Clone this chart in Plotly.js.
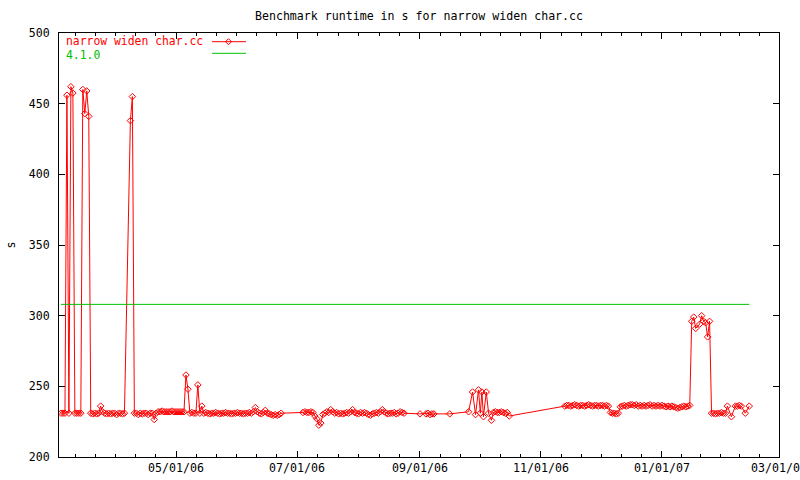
<!DOCTYPE html>
<html><head><meta charset="utf-8">
<script src="https://cdn.plot.ly/plotly-3.0.1.min.js"></script>
<style>html,body{margin:0;padding:0;background:#fff}#chart{width:800px;height:480px}</style>
</head><body><div id="chart"></div>
<script>
const chartTitle = 'Benchmark runtime in s for narrow widen char.cc';
const seriesName = 'narrow widen char.cc';
const referenceName = '4.1.0';
const yAxisTitle = 's';

const runDates = [
  '2006-03-04','2006-03-05','2006-03-06','2006-03-07','2006-03-08','2006-03-09','2006-03-10','2006-03-11','2006-03-12','2006-03-13','2006-03-14','2006-03-15','2006-03-16','2006-03-17','2006-03-18',
  '2006-03-19','2006-03-20','2006-03-21','2006-03-22','2006-03-23','2006-03-24','2006-03-25','2006-03-26','2006-03-27','2006-03-28','2006-03-29','2006-03-30','2006-03-31','2006-04-01','2006-04-02','2006-04-03','2006-04-04','2006-04-05',
  '2006-04-08','2006-04-09','2006-04-10','2006-04-11','2006-04-12','2006-04-13','2006-04-14','2006-04-15','2006-04-16','2006-04-17','2006-04-18','2006-04-19','2006-04-20','2006-04-21',
  '2006-04-22','2006-04-23','2006-04-24','2006-04-25','2006-04-26','2006-04-27','2006-04-28','2006-04-29','2006-04-30','2006-05-01','2006-05-02','2006-05-03','2006-05-04','2006-05-05',
  '2006-05-06','2006-05-07','2006-05-08','2006-05-09','2006-05-10','2006-05-11','2006-05-12','2006-05-13','2006-05-14',
  '2006-05-15','2006-05-16','2006-05-17','2006-05-18','2006-05-19','2006-05-20','2006-05-21','2006-05-22','2006-05-23','2006-05-24','2006-05-25','2006-05-26','2006-05-27','2006-05-28','2006-05-29','2006-05-30','2006-05-31',
  '2006-06-01','2006-06-02','2006-06-03','2006-06-04','2006-06-05','2006-06-06','2006-06-07','2006-06-08','2006-06-09','2006-06-10','2006-06-11','2006-06-12','2006-06-13','2006-06-14','2006-06-15','2006-06-16','2006-06-17','2006-06-18','2006-06-19','2006-06-20','2006-06-21','2006-06-22','2006-06-23',
  '2006-07-04','2006-07-05','2006-07-06','2006-07-07','2006-07-08','2006-07-09','2006-07-10','2006-07-11','2006-07-12','2006-07-13','2006-07-14',
  '2006-07-15','2006-07-16','2006-07-17','2006-07-18','2006-07-19','2006-07-20','2006-07-21','2006-07-22','2006-07-23','2006-07-24','2006-07-25','2006-07-26','2006-07-27','2006-07-28','2006-07-29','2006-07-30','2006-07-31',
  '2006-08-01','2006-08-02','2006-08-03','2006-08-04','2006-08-05','2006-08-06','2006-08-07','2006-08-08','2006-08-09','2006-08-10','2006-08-11','2006-08-12','2006-08-13','2006-08-14','2006-08-15','2006-08-16','2006-08-17','2006-08-18','2006-08-19','2006-08-20','2006-08-21','2006-08-22','2006-08-23','2006-08-24',
  '2006-09-01','2006-09-04','2006-09-05','2006-09-06','2006-09-07','2006-09-08','2006-09-16',
  '2006-09-25 12:00','2006-09-27 12:00','2006-09-29 00:00','2006-09-30 12:00','2006-10-01 10:00','2006-10-02 05:00','2006-10-03 00:00','2006-10-04 10:00','2006-10-05 14:00','2006-10-07 00:00',
  '2006-10-08','2006-10-09','2006-10-10','2006-10-11','2006-10-12','2006-10-13','2006-10-14','2006-10-15','2006-10-16',
  '2006-11-13','2006-11-14','2006-11-15','2006-11-16','2006-11-17','2006-11-18','2006-11-19','2006-11-20','2006-11-21','2006-11-22','2006-11-23','2006-11-24','2006-11-25','2006-11-26','2006-11-27','2006-11-28','2006-11-29','2006-11-30',
  '2006-12-01','2006-12-02','2006-12-03','2006-12-04','2006-12-05',
  '2006-12-06','2006-12-07','2006-12-08','2006-12-09','2006-12-10',
  '2006-12-11','2006-12-12','2006-12-13','2006-12-14','2006-12-15','2006-12-16','2006-12-17','2006-12-18','2006-12-19','2006-12-20','2006-12-21','2006-12-22','2006-12-23','2006-12-24','2006-12-25','2006-12-26','2006-12-27','2006-12-28','2006-12-29','2006-12-30','2006-12-31',
  '2007-01-01','2007-01-02','2007-01-03','2007-01-04','2007-01-05','2007-01-06','2007-01-07','2007-01-08','2007-01-09','2007-01-10','2007-01-11','2007-01-12','2007-01-13','2007-01-14','2007-01-15',
  '2007-01-16','2007-01-17','2007-01-18','2007-01-20','2007-01-21','2007-01-22','2007-01-23','2007-01-24','2007-01-25',
  '2007-01-26','2007-01-27','2007-01-28','2007-01-29','2007-01-30','2007-01-31','2007-02-01','2007-02-02',
  '2007-02-03','2007-02-05','2007-02-07','2007-02-08','2007-02-09','2007-02-10','2007-02-12','2007-02-14'
];

const runtimeSeconds = [
  231,231,231,456,231,462,457.5,231,231,231,231,460,443,459,441,
  231,230.5,231,230.5,231,236,232,231,230.5,231,230.5,231,231,230,231,231,230.5,231,
  438,455,231,231,230,231,230.5,231,231,230,231,231,226.5,231,
  232,232,232.5,232,232,232,232,232.5,232,232,232,232,232,232,
  258,248,231,231.5,231,231,251,231,236,
  231,231.5,231,230.5,231,231,231.5,231,230.5,231,231,231.5,231,231,230.5,231,231,
  231.5,231,231,230.5,231,231,231.5,231,232,235,232,231,230.5,231.5,233,231,230.5,230,229.5,230,229.5,230,231,
  231.5,232,231.5,231.5,232,231.5,229,227,222.5,224,230,
  231,232,231.5,233.5,232,231,231.5,230.5,231,230.5,231,231.5,231,232,233.5,231.5,231,
  230.5,231.5,231,231.5,231,230,229.5,230.5,231,231.5,231,232,233.5,232,231,230.5,231,231,231.5,230.5,231,232,231.5,231,
  230.5,230.5,231,230,230.5,230.5,230.5,
  232,246,230,247.5,231,246,228.5,246,231,226,
  231.5,232,231.5,231.5,232,231.5,231,231.5,229,
  236,236.5,236.5,236,236.5,237,236.5,236,236.5,236.5,236,236.5,237,236.5,236,236.5,236.5,236,
  236.5,236.5,236,236.5,236,
  231.5,231,231,230.5,231,
  235.5,236,236.5,236,236.5,237,237,236.5,237,236,236.5,236,236.5,236,236.5,237,236,236.5,236,236.5,236,
  236.5,236,235.5,236,235.5,236,235.5,235,234.5,235,235.5,236,235.5,236,236.5,
  296,299,291,294,300,296,295,285,296,
  231,231,230.5,231,231,231.5,231,231,
  236,228.5,236,236,236.5,236,231,236
];

const referenceDates = ['2006-03-04', '2007-02-14'];
const referenceSeconds = [308, 308];

const xTickDates = ['2006-05-01','2006-07-01','2006-09-01','2006-11-01','2007-01-01','2007-03-01'];
const xTickLabels = ['05/01/06','07/01/06','09/01/06','11/01/06','01/01/07','03/01/07'];
const yTickValues = [200, 250, 300, 350, 400, 450, 500];
const yTickLabels = ['200', '250', '300', '350', '400', '450', '500'];

const FONT = 'DejaVu Sans Mono, monospace';
const RED = '#ff0000';
const GREEN = '#00c000';

// minor ticks: each two-month interval split into six
function minorTickDates() {
  const ms = xTickDates.map(d => Date.parse(d + 'T00:00:00Z'));
  const out = [];
  const step0 = (ms[1] - ms[0]) / 6;
  for (let k = 1; k <= 5; k++) out.push(ms[0] - k * step0);
  for (let i = 0; i < ms.length - 1; i++) {
    const s = (ms[i + 1] - ms[i]) / 6;
    for (let k = 1; k < 6; k++) out.push(ms[i] + k * s);
  }
  return out.map(t => new Date(t).toISOString().replace('T', ' ').slice(0, 19));
}

const L = 59, R = 21, T = 33, B = 23, W = 800, H = 480;
const pw = W - L - R, ph = H - T - B;
const px = x => (x - L) / pw;
const py = y => 1 - (y - T) / ph;

const traces = [
  {
    x: runDates, y: runtimeSeconds, name: seriesName, type: 'scatter', mode: 'lines+markers',
    line: {color: RED, width: 1},
    marker: {symbol: 'diamond-open', size: 5, color: RED, line: {color: RED, width: 1}},
    showlegend: false
  },
  {
    x: referenceDates, y: referenceSeconds, name: referenceName, type: 'scatter', mode: 'lines',
    line: {color: GREEN, width: 1}, showlegend: false
  }
];

const layout = {
  width: W, height: H,
  margin: {l: L, r: R, t: T, b: B, pad: 0},
  paper_bgcolor: '#ffffff', plot_bgcolor: '#ffffff',
  font: {family: FONT, size: 11.6, color: '#000'},
  title: {text: chartTitle, x: 0.5, xref: 'paper', xanchor: 'center', y: 1 - 16 / H, yref: 'container', yanchor: 'middle',
          font: {family: FONT, size: 11.6, color: '#000'}},
  showlegend: false,
  xaxis: {
    type: 'date', range: ['2006-03-03 00:00', '2007-03-01 00:00'],
    tickmode: 'array', tickvals: xTickDates, ticktext: xTickLabels,
    ticks: 'inside', ticklen: 6, tickwidth: 1, tickcolor: '#000',
    showline: true, linecolor: '#000', linewidth: 1, mirror: 'ticks',
    showgrid: false, zeroline: false, ticklabeloverflow: 'allow',
    tickfont: {family: FONT, size: 11.6, color: '#000'},
    minor: {tickmode: 'array', tickvals: minorTickDates(), ticks: 'inside', ticklen: 3, tickwidth: 1, tickcolor: '#000', showgrid: false}
  },
  yaxis: {
    range: [200, 500], tickmode: 'array', tickvals: yTickValues, ticktext: yTickLabels,
    ticks: 'inside', ticklen: 6, tickwidth: 1, tickcolor: '#000',
    showline: true, linecolor: '#000', linewidth: 1, mirror: 'ticks',
    showgrid: false, zeroline: false, ticklabelstandoff: 6,
    tickfont: {family: FONT, size: 11.6, color: '#000'},
    title: {text: yAxisTitle, font: {family: FONT, size: 11.6, color: '#000'}, standoff: 10}
  },
  annotations: [
    {text: seriesName, xref: 'paper', yref: 'paper', x: px(65), y: py(41.3), xanchor: 'left', yanchor: 'middle',
     height: 12, valign: 'middle', borderpad: 0,
     showarrow: false, font: {family: FONT, size: 11.4, color: RED}},
    {text: referenceName, xref: 'paper', yref: 'paper', x: px(65), y: py(55), xanchor: 'left', yanchor: 'middle',
     height: 12, valign: 'middle', borderpad: 0,
     showarrow: false, font: {family: FONT, size: 11.4, color: GREEN}}
  ],
  shapes: [
    {type: 'line', xref: 'paper', yref: 'paper', x0: px(212), x1: px(246), y0: py(41.7), y1: py(41.7), line: {color: RED, width: 1}},
    {type: 'path', xref: 'paper', yref: 'paper', xsizemode: 'pixel', ysizemode: 'pixel', xanchor: px(228.5), yanchor: py(41.7),
     path: 'M -3,0 L 0,3 L 3,0 L 0,-3 Z', line: {color: RED, width: 1}, fillcolor: 'rgba(0,0,0,0)'},
    {type: 'line', xref: 'paper', yref: 'paper', x0: px(212), x1: px(246), y0: py(53.3), y1: py(53.3), line: {color: GREEN, width: 1}}
  ]
};

Plotly.newPlot('chart', traces, layout, {displayModeBar: false, staticPlot: true});
</script>
</body></html>
